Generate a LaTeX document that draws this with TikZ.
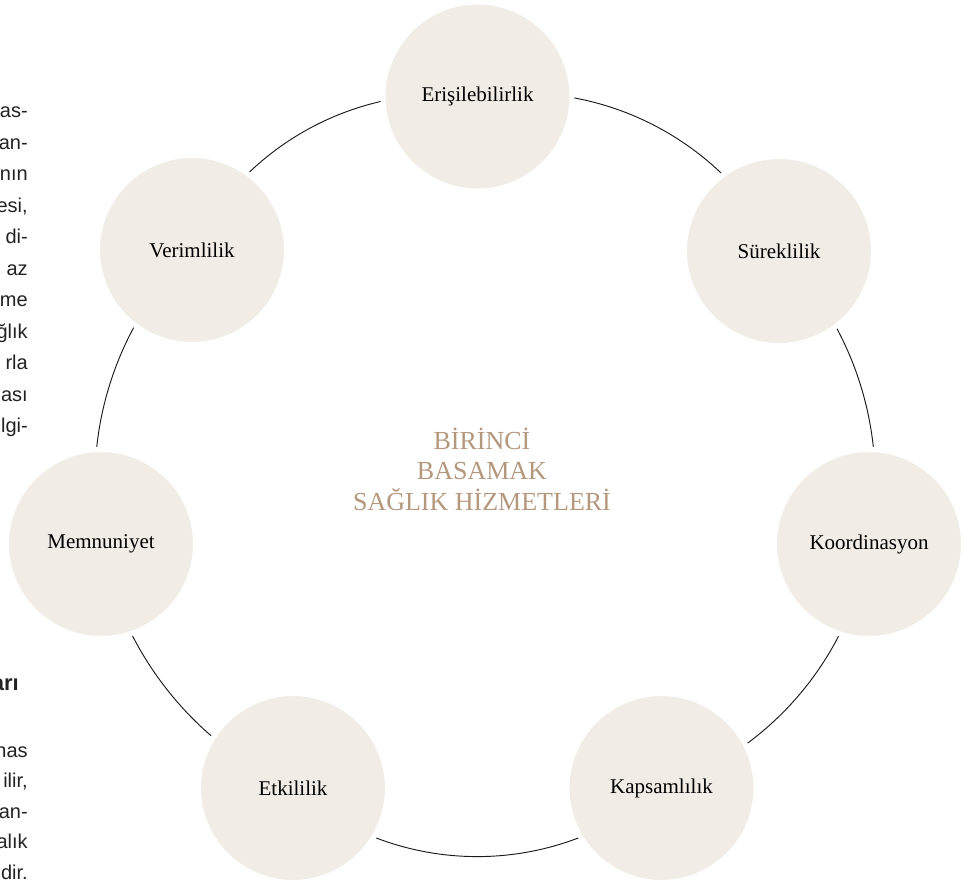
\documentclass[tikz,border=0pt]{standalone}
\usepackage{fontspec}
\setmainfont{Liberation Serif}
\newfontfamily\bodysans{Liberation Sans}
\pgfdeclarelayer{bg}
\pgfsetlayers{bg,main}
\definecolor{nodefill}{RGB}{241,236,230}
\definecolor{titletan}{RGB}{180,152,126}
\definecolor{bodyink}{RGB}{34,34,34}
\begin{document}
\begin{tikzpicture}[x=0.75pt,y=-0.75pt,
  topic/.style={circle, fill=nodefill, draw=white, line width=3.75pt,
    minimum size=141.75pt, inner sep=0pt,
    font=\fontsize{15.75}{18}\selectfont, text=black},
  link/.style={line width=0.7pt, draw=black!90},
  frag/.style={anchor=base east, inner sep=0pt,
    font=\bodysans\fontsize{15}{18}\selectfont, text=bodyink},
  fraghead/.style={frag, font=\bodysans\bfseries\fontsize{16.5}{20}\selectfont}]
\useasboundingbox (0,0) rectangle (968,885);
\clip (0,0) rectangle (968,885);

% nodes
\node[topic] (E)  at (477.5,96.5) {Erişilebilirlik};
\node[topic] (S)  at (779,251)    {Süreklilik};
\node[topic] (K)  at (869,544)    {Koordinasyon};
\node[topic] (Ka) at (661.5,788)  {Kapsamlılık};
\node[topic] (Et) at (293,788)    {Etkililik};
\node[topic] (M)  at (101,544)    {Memnuniyet};
\node[topic] (V)  at (192,250)    {Verimlilik};

% connectors (ring), drawn behind the nodes
\begin{pgfonlayer}{bg}
\draw[link] (E.center)  to[bend left=36,   looseness=0.94]  (S.center);
\draw[link] (S.center)  to[bend left=28.3, looseness=0.905] (K.center);
\draw[link] (K.center)  to[bend left=31.1, looseness=0.917] (Ka.center);
\draw[link] (Ka.center) to[bend left=41,   looseness=0.97]  (Et.center);
\draw[link] (Et.center) to[bend left=27.6, looseness=0.902] (M.center);
\draw[link] (M.center)  to[bend left=28.4, looseness=0.905] (V.center);
\draw[link] (V.center)  to[bend left=35.3, looseness=0.938] (E.center);
\end{pgfonlayer}

% centre title
\node[font=\fontsize{19.5}{22.9}\selectfont, text=titletan, align=center,
  inner sep=0pt] (T) at (482,469) {BİRİNCİ\\BASAMAK\\SAĞLIK HİZMETLERİ};

% cut-off body text on the left
\node[frag] (f1)  at (28,117.5) {as-};
\node[frag] (f2)  at (28,149)   {an-};
\node[frag] (f3)  at (28,180.5) {nın};
\node[frag] (f4)  at (28,212)   {esi,};
\node[frag] (f5)  at (28,243.5) {di-};
\node[frag] (f6)  at (28,275)   {az};
\node[frag] (f7)  at (28,306.5) {me};
\node[frag] (f8)  at (28,338)   {ğlık};
\node[frag] (f9)  at (28,369.5) {rla};
\node[frag] (f10) at (28,401)   {ası};
\node[frag] (f11) at (28,432.5) {lgi-};
\node[fraghead] (h1) at (19,690.5) {arı};
\node[frag] (g1)  at (28,757)   {nas};
\node[frag] (g2)  at (28,787.5) {ilir,};
\node[frag] (g3)  at (28,818)   {an-};
\node[frag] (g4)  at (28,848.5) {alık};
\node[frag] (g5)  at (28,879)   {dir.};
\end{tikzpicture}
\end{document}
